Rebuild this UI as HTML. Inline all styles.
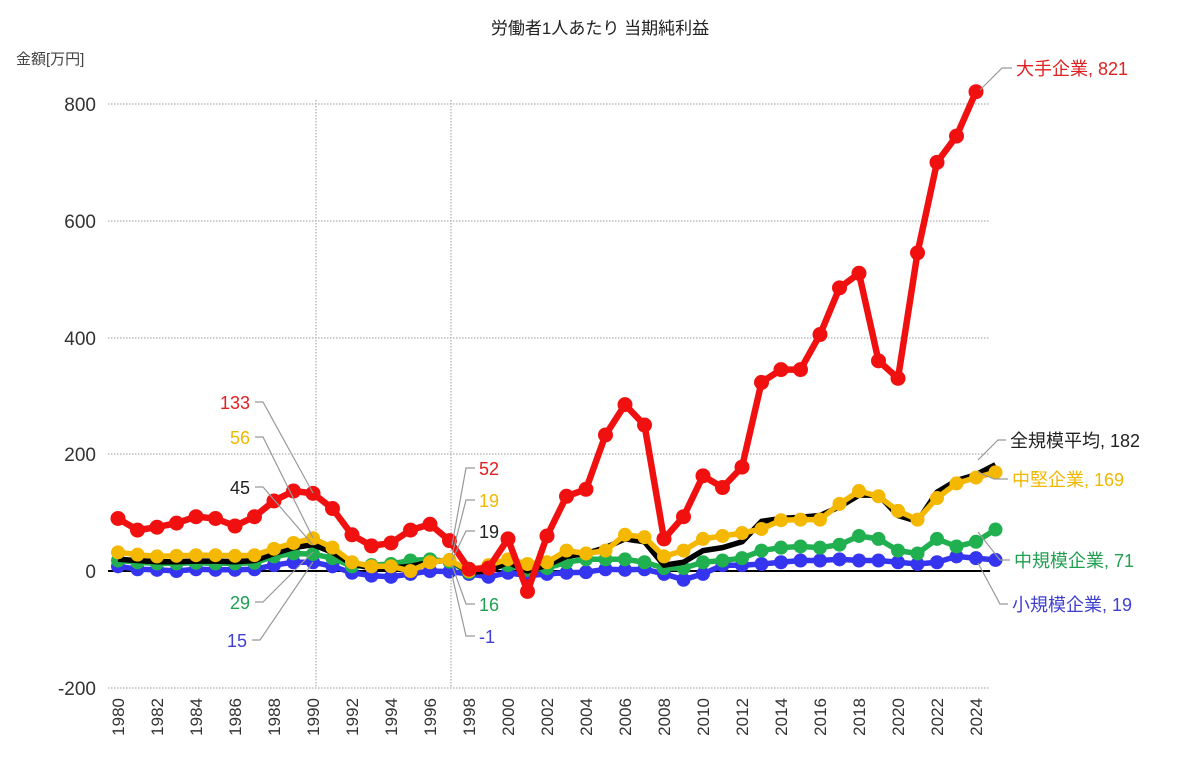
<!DOCTYPE html>
<html><head><meta charset="utf-8">
<style>
body{margin:0;background:#fff;}
svg{display:block;font-family:"Liberation Sans","Noto Sans CJK JP",sans-serif;}
</style></head>
<body>
<svg id="c" width="1200" height="782" viewBox="0 0 1200 782">
<text x="600" y="34" font-size="17" text-anchor="middle" fill="#222">労働者1人あたり 当期純利益</text>
<text x="16" y="64" font-size="15" fill="#444">金額[万円]</text>
<g stroke="#999" stroke-width="1" stroke-dasharray="1.5,1.5">
<line x1="108" y1="104" x2="990" y2="104"/>
<line x1="108" y1="221" x2="990" y2="221"/>
<line x1="108" y1="338" x2="990" y2="338"/>
<line x1="108" y1="454" x2="990" y2="454"/>
<line x1="108" y1="688" x2="990" y2="688"/>
<line x1="316" y1="100" x2="316" y2="688"/>
<line x1="451" y1="100" x2="451" y2="688"/>
</g>
<line x1="108" y1="571" x2="990" y2="571" stroke="#000" stroke-width="2"/>
<g font-size="19" fill="#333" text-anchor="end">
<text x="96" y="111">800</text>
<text x="96" y="228">600</text>
<text x="96" y="345">400</text>
<text x="96" y="461">200</text>
<text x="96" y="578">0</text>
<text x="96" y="695">-200</text>
</g>
<g id="years" font-size="17" fill="#333" text-anchor="end">
<text transform="translate(124,698) rotate(-90)">1980</text>
<text transform="translate(163,698) rotate(-90)">1982</text>
<text transform="translate(202,698) rotate(-90)">1984</text>
<text transform="translate(241,698) rotate(-90)">1986</text>
<text transform="translate(280,698) rotate(-90)">1988</text>
<text transform="translate(319,698) rotate(-90)">1990</text>
<text transform="translate(358,698) rotate(-90)">1992</text>
<text transform="translate(397,698) rotate(-90)">1994</text>
<text transform="translate(436,698) rotate(-90)">1996</text>
<text transform="translate(475,698) rotate(-90)">1998</text>
<text transform="translate(514,698) rotate(-90)">2000</text>
<text transform="translate(553,698) rotate(-90)">2002</text>
<text transform="translate(592,698) rotate(-90)">2004</text>
<text transform="translate(631,698) rotate(-90)">2006</text>
<text transform="translate(670,698) rotate(-90)">2008</text>
<text transform="translate(709,698) rotate(-90)">2010</text>
<text transform="translate(748,698) rotate(-90)">2012</text>
<text transform="translate(787,698) rotate(-90)">2014</text>
<text transform="translate(826,698) rotate(-90)">2016</text>
<text transform="translate(865,698) rotate(-90)">2018</text>
<text transform="translate(904,698) rotate(-90)">2020</text>
<text transform="translate(943,698) rotate(-90)">2022</text>
<text transform="translate(982,698) rotate(-90)">2024</text>
</g>
<g id="series"></g>
<g stroke="#999" stroke-width="1.2" fill="none">
<polyline points="255,402 263,402 313,493"/>
<polyline points="255,437 263,437 313,538"/>
<polyline points="255,487 263,487 313,545"/>
<polyline points="255,602 263,602 313,552"/>
<polyline points="252,640 260,640 313,562"/>
<polyline points="475,468 466,468 452,545"/>
<polyline points="475,500 466,500 452,555"/>
<polyline points="475,531 466,531 452,560"/>
<polyline points="475,604 466,604 452,565"/>
<polyline points="475,636 466,636 452,575"/>
<polyline points="980,90 1002,68 1012,68"/>
<polyline points="978,460 998,440 1006,440"/>
<polyline points="978,472 994,479 1008,479"/>
<polyline points="978,532 1000,560 1010,560"/>
<polyline points="978,563 1000,604 1008,604"/>
</g>
<g font-size="18">
<text x="250" y="409" text-anchor="end" fill="#e02020">133</text>
<text x="250" y="444" text-anchor="end" fill="#f0b800">56</text>
<text x="250" y="494" text-anchor="end" fill="#222">45</text>
<text x="250" y="609" text-anchor="end" fill="#20a050">29</text>
<text x="247" y="647" text-anchor="end" fill="#4040d0">15</text>
<text x="479" y="475" fill="#e02020">52</text>
<text x="479" y="507" fill="#f0b800">19</text>
<text x="479" y="538" fill="#222">19</text>
<text x="479" y="611" fill="#20a050">16</text>
<text x="479" y="643" fill="#4040d0">-1</text>
<text x="1016" y="75" fill="#e02020">大手企業, 821</text>
<text x="1010" y="447" fill="#222">全規模平均, 182</text>
<text x="1012" y="486" fill="#f0b800">中堅企業, 169</text>
<text x="1014" y="567" fill="#20a050">中規模企業, 71</text>
<text x="1012" y="611" fill="#4040d0">小規模企業, 19</text>
</g>
</svg>
<script>
var X=function(i){return 118+i*19.5}, Y=function(v){return 571-v*0.5838};
var red=[90,70,75,82,93,90,77,93,120,137,133,107,62,43,48,70,80,52,3,5,55,-35,60,128,140,233,285,250,55,93,163,143,178,323,345,345,405,485,510,360,330,545,700,745,821];
var yel=[32,28,25,26,27,27,26,27,38,48,56,40,15,8,8,0,15,19,0,10,20,12,15,35,30,35,62,58,25,35,55,60,65,72,87,88,88,115,137,128,103,88,125,150,160,169];
var blk=[20,18,16,16,17,17,16,18,30,40,45,32,12,5,5,8,15,19,-2,0,15,0,10,25,30,40,55,50,10,15,35,40,50,85,90,92,95,110,130,130,95,85,135,155,165,182];
var grn=[18,15,13,13,14,13,13,14,25,30,29,22,8,10,12,18,20,16,-2,5,10,2,5,15,20,20,20,15,5,5,15,18,22,35,40,42,40,45,60,55,35,30,55,42,50,71];
var blu=[8,3,2,0,3,2,2,3,10,15,15,8,-3,-8,-10,-5,0,-1,-5,-10,-3,-8,-5,-3,-2,3,2,3,-5,-15,-5,10,10,12,15,18,18,20,18,18,15,12,15,25,22,19];
var g=document.getElementById('series'),ns='http://www.w3.org/2000/svg';
function draw(d,col,w,r){var p=d.map(function(v,i){return X(i).toFixed(1)+','+Y(v).toFixed(1)}).join(' ');
var l=document.createElementNS(ns,'polyline');l.setAttribute('points',p);l.setAttribute('fill','none');l.setAttribute('stroke',col);l.setAttribute('stroke-width',w);l.setAttribute('stroke-linejoin','round');g.appendChild(l);
if(r)d.forEach(function(v,i){var c=document.createElementNS(ns,'circle');c.setAttribute('cx',X(i));c.setAttribute('cy',Y(v));c.setAttribute('r',r);c.setAttribute('fill',col);g.appendChild(c);});}
draw(blu,'#3535f0',5.5,7);draw(grn,'#20b050',5.5,7);draw(blk,'#000',5.5,0);draw(yel,'#f5b800',5.5,7);draw(red,'#f01010',6.5,7.5);
</script>
</body></html>
